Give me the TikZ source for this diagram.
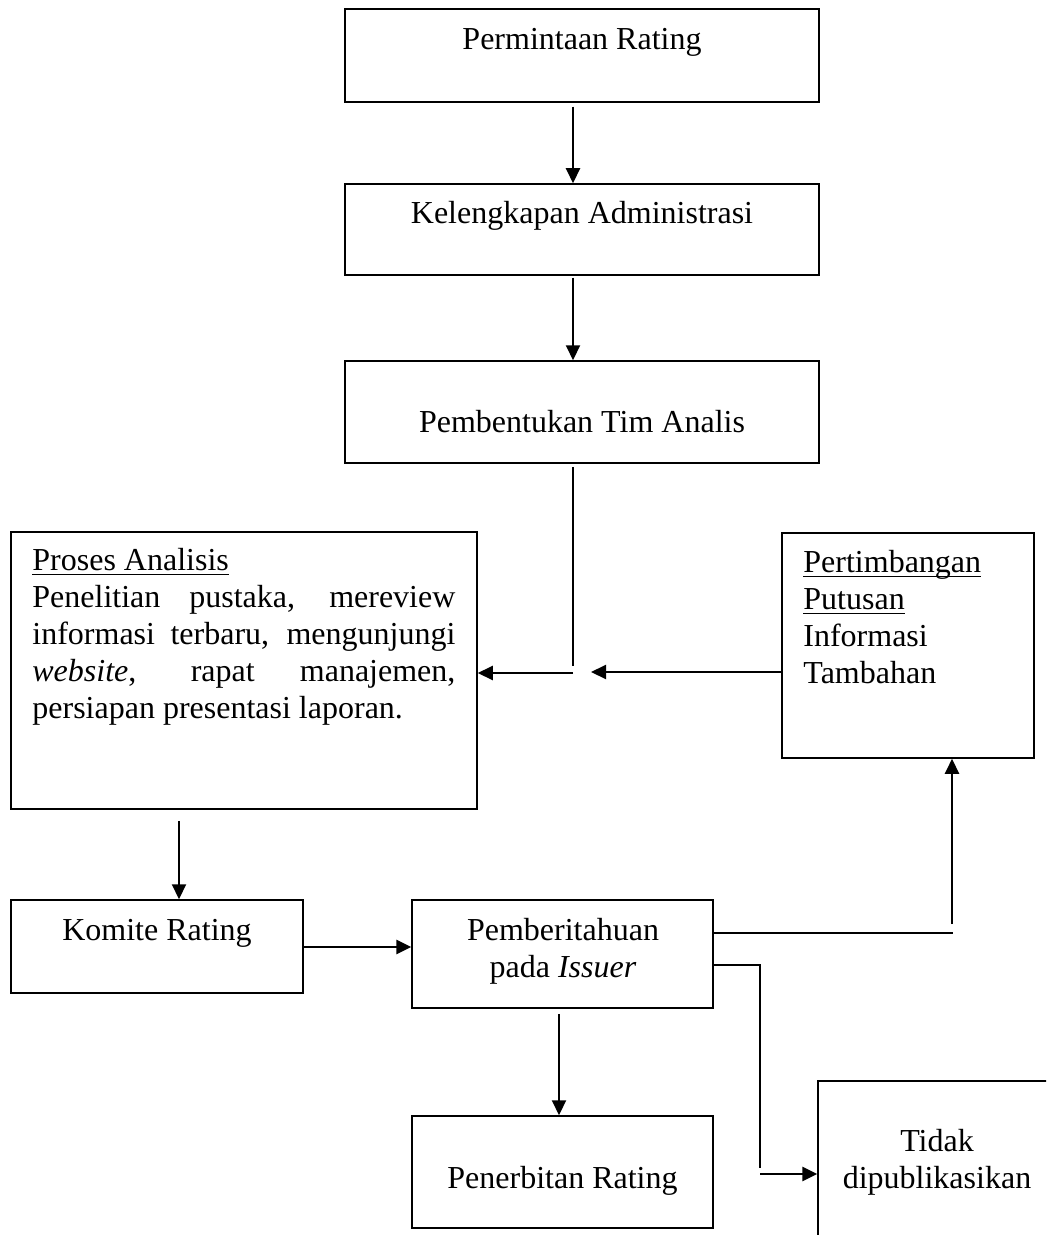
\documentclass[tikz,border=0pt]{standalone}
\usepackage{fontspec}
\setmainfont{Liberation Serif}
\usetikzlibrary{arrows.meta}
\newcommand\ulx[1]{\leavevmode\setbox0\hbox{#1}\rlap{\rule[-2.3pt]{\wd0}{0.65pt}}\box0}
\tikzset{
  box/.style={draw=black, line width=0.75pt, rectangle, inner sep=0pt},
  txt/.style={inner sep=0pt, font=\fontsize{16}{18.4}\selectfont},
  arr/.style={draw=black, line width=1.05pt, -{Triangle[length=7.5pt,width=7pt]}},
  thickarr/.style={arr, line width=1.35pt},
  ln/.style={draw=black, line width=0.85pt},
  thinln/.style={draw=black, line width=0.65pt}
}
\begin{document}
\begin{tikzpicture}[x=0.5pt,y=-0.5pt]
\clip (0,0) rectangle (1046,1235);
\fill[white] (0,0) rectangle (1046,1235);
% boxes
\node[box, minimum width=237pt, minimum height=46.5pt] (perm) at (582,55.5) {};
\node[box, minimum width=237pt, minimum height=45.5pt] (kel) at (582,229.5) {};
\node[box, minimum width=237pt, minimum height=51pt] (pemb) at (582,412) {};
\node[box, minimum width=233pt, minimum height=138.5pt] (proses) at (244,670.5) {};
\node[box, minimum width=126pt, minimum height=112.5pt] (pert) at (908,645.5) {};
\node[box, minimum width=146pt, minimum height=46.5pt] (komite) at (157,946.5) {};
\node[box, minimum width=150.5pt, minimum height=54pt] (pember) at (562.5,954) {};
\node[box, minimum width=150.5pt, minimum height=56pt] (pener) at (562.5,1172) {};
\node[box, minimum width=141pt, minimum height=109.5pt] (tidak) at (959,1190.5) {};
% texts (multi-line nodes anchored at the baseline of their last line)
\node[txt, anchor=base] (tperm) at (582,50) {Permintaan Rating};
\node[txt, anchor=base] (tkel) at (582,224) {Kelengkapan Administrasi};
\node[txt, anchor=base] (tpemb) at (582,432) {Pembentukan Tim Analis};
\node[txt, anchor=base west, align=left] (tproses) at (32,718) {\ulx{Proses Analisis}\\
\makebox[211.5pt][s]{Penelitian pustaka, mereview}\\
\makebox[211.5pt][s]{informasi terbaru, mengunjungi}\\
\makebox[211.5pt][s]{\textit{website}, rapat manajemen,}\\
persiapan presentasi laporan.};
\node[txt, anchor=base west, align=left] (tpert) at (803,683) {\ulx{Pertimbangan}\\ \ulx{Putusan}\\ Informasi\\ Tambahan};
\node[txt, anchor=base] (tkomite) at (157,940) {Komite Rating};
\node[txt, anchor=base, align=center] (tpember) at (563,977) {Pemberitahuan\\ pada \textit{Issuer}};
\node[txt, anchor=base] (tpener) at (562.5,1188) {Penerbitan Rating};
\node[txt, anchor=base, align=center] (ttidak) at (937,1188) {Tidak\\ dipublikasikan};
% helper coordinates
\coordinate (ax) at (573,0);
\coordinate (jn) at (573,666);
\coordinate (jl) at (573,673);
\coordinate (jr) at (591,672);
\coordinate (bx) at (179,0);
\coordinate (ky) at (0,947);
\coordinate (uh) at (953,933);
\coordinate (ux) at (952,924);
\coordinate (tc) at (760,965);
\coordinate (td) at (760,1168);
\coordinate (te) at (760,1174);
\coordinate (px) at (559,0);
% connectors
\draw[arr] ([yshift=-2pt]perm.south -| ax) -- (kel.north -| ax);
\draw[arr] ([yshift=-1pt]kel.south -| ax) -- (pemb.north -| ax);
\draw[thinln] ([yshift=-1.5pt]pemb.south -| ax) -- (jn);
\draw[arr] (jl) -- (jl -| proses.east);
\draw[arr] (jr -| pert.west) -- (jr);
\draw[arr] ([yshift=-5.5pt]proses.south -| bx) -- (komite.north -| bx);
\draw[thickarr] (komite.east |- ky) -- (pember.west |- ky);
\draw[ln] (uh -| pember.east) -- (uh);
\draw[arr] (ux) -- (ux |- pert.south);
\draw[ln] (tc -| pember.east) -- (tc) -- (td);
\draw[thickarr] (te) -- (te -| tidak.west);
\draw[arr] ([yshift=-2.5pt]pember.south -| px) -- (pener.north -| px);
\end{tikzpicture}
\end{document}
